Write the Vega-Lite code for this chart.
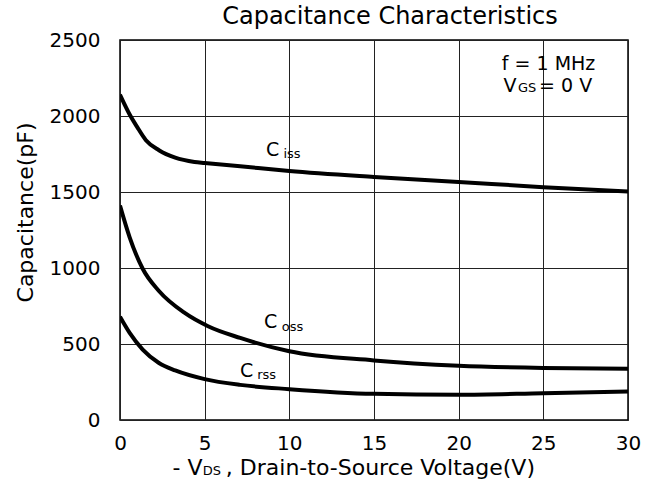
{
  "$schema": "https://vega.github.io/schema/vega-lite/v6.json",
  "width": 508,
  "height": 380,
  "autosize": {"type": "none"},
  "padding": {"left": 120, "top": 40, "right": 32, "bottom": 60},
  "background": "white",
  "title": {"text": "Capacitance Characteristics", "fontSize": 24, "font": "DejaVu Sans", "fontWeight": "normal", "color": "black", "anchor": "middle", "dx": 16, "offset": 1},
  "datasets": {
    "curves": [
      {"series": "Ciss", "v": 0, "c": 2140},
      {"series": "Ciss", "v": 0.62, "c": 2000},
      {"series": "Ciss", "v": 1.0, "c": 1930},
      {"series": "Ciss", "v": 1.53, "c": 1841},
      {"series": "Ciss", "v": 2.3, "c": 1775},
      {"series": "Ciss", "v": 3.26, "c": 1726},
      {"series": "Ciss", "v": 4.4, "c": 1698},
      {"series": "Ciss", "v": 5, "c": 1691},
      {"series": "Ciss", "v": 7.1, "c": 1669},
      {"series": "Ciss", "v": 10, "c": 1638},
      {"series": "Ciss", "v": 15, "c": 1599},
      {"series": "Ciss", "v": 20, "c": 1566},
      {"series": "Ciss", "v": 25, "c": 1532},
      {"series": "Ciss", "v": 30, "c": 1503},
      {"series": "Coss", "v": 0, "c": 1411},
      {"series": "Coss", "v": 0.57, "c": 1202},
      {"series": "Coss", "v": 1.34, "c": 995},
      {"series": "Coss", "v": 2.3, "c": 849},
      {"series": "Coss", "v": 3.8, "c": 706},
      {"series": "Coss", "v": 5.2, "c": 617},
      {"series": "Coss", "v": 7.1, "c": 540},
      {"series": "Coss", "v": 10, "c": 452},
      {"series": "Coss", "v": 15, "c": 392},
      {"series": "Coss", "v": 20, "c": 357},
      {"series": "Coss", "v": 25, "c": 342},
      {"series": "Coss", "v": 30, "c": 337},
      {"series": "Crss", "v": 0, "c": 679},
      {"series": "Crss", "v": 0.57, "c": 573},
      {"series": "Crss", "v": 1.34, "c": 463},
      {"series": "Crss", "v": 2.3, "c": 375},
      {"series": "Crss", "v": 3.26, "c": 326},
      {"series": "Crss", "v": 5, "c": 269},
      {"series": "Crss", "v": 7.1, "c": 231},
      {"series": "Crss", "v": 10, "c": 203},
      {"series": "Crss", "v": 15, "c": 172},
      {"series": "Crss", "v": 20, "c": 166},
      {"series": "Crss", "v": 25, "c": 176},
      {"series": "Crss", "v": 30, "c": 187}
    ],
    "labels": [
      {"label": "C", "x": 8.62, "y": 1737},
      {"label": "C", "x": 8.5, "y": 605},
      {"label": "C", "x": 7.09, "y": 283},
      {"label": "f = 1 MHz", "x": 22.55, "y": 2305},
      {"label": "V", "x": 22.65, "y": 2160},
      {"label": "= 0 V", "x": 24.75, "y": 2160}
    ],
    "subs": [
      {"label": "iss", "x": 9.65, "y": 1724},
      {"label": "oss", "x": 9.55, "y": 585},
      {"label": "rss", "x": 8.1, "y": 270},
      {"label": "GS", "x": 23.5, "y": 2160},
      {"label": "DS", "x": 4.88, "y": -362}
    ],
    "xtitle": [
      {"label": "- V", "x": 3.1, "y": -362},
      {"label": ", Drain-to-Source Voltage(V)", "x": 6.25, "y": -362}
    ]
  },
  "layer": [
    {
      "data": {"name": "curves"},
      "mark": {"type": "line", "color": "black", "strokeWidth": 4, "interpolate": "monotone", "clip": true},
      "encoding": {
        "x": {"field": "v", "type": "quantitative", "scale": {"domain": [0, 30], "nice": false, "zero": false},
          "axis": {"values": [0, 5, 10, 15, 20, 25, 30], "format": "d", "title": null, "labelPadding": 13, "labelFlush": false}},
        "y": {"field": "c", "type": "quantitative", "scale": {"domain": [0, 2500], "nice": false},
          "axis": {"values": [0, 500, 1000, 1500, 2000, 2500], "format": "d", "title": "Capacitance(pF)", "labelPadding": 20, "labelFlush": false, "titleFontSize": 22, "titleFontWeight": "normal", "titleFont": "DejaVu Sans", "titleColor": "black", "titlePadding": 12, "titleY": 172}},
        "detail": {"field": "series", "type": "nominal"}
      }
    },
    {
      "data": {"name": "labels"},
      "mark": {"type": "text", "align": "left", "baseline": "alphabetic", "fontSize": 19, "font": "DejaVu Sans", "color": "black"},
      "encoding": {
        "x": {"field": "x", "type": "quantitative"},
        "y": {"field": "y", "type": "quantitative"},
        "text": {"field": "label", "type": "nominal"}
      }
    },
    {
      "data": {"name": "subs"},
      "mark": {"type": "text", "align": "left", "baseline": "alphabetic", "fontSize": 13, "font": "DejaVu Sans", "color": "black"},
      "encoding": {
        "x": {"field": "x", "type": "quantitative"},
        "y": {"field": "y", "type": "quantitative"},
        "text": {"field": "label", "type": "nominal"}
      }
    },
    {
      "data": {"name": "xtitle"},
      "mark": {"type": "text", "align": "left", "baseline": "alphabetic", "fontSize": 22, "font": "DejaVu Sans", "color": "black"},
      "encoding": {
        "x": {"field": "x", "type": "quantitative"},
        "y": {"field": "y", "type": "quantitative"},
        "text": {"field": "label", "type": "nominal"}
      }
    }
  ],
  "config": {
    "font": "DejaVu Sans",
    "view": {"stroke": "black", "strokeWidth": 1.5},
    "axis": {"grid": true, "gridColor": "#222222", "gridWidth": 1, "gridOpacity": 1, "domain": false, "ticks": false, "labelFont": "DejaVu Sans", "labelFontSize": 20, "labelColor": "black"}
  }
}
